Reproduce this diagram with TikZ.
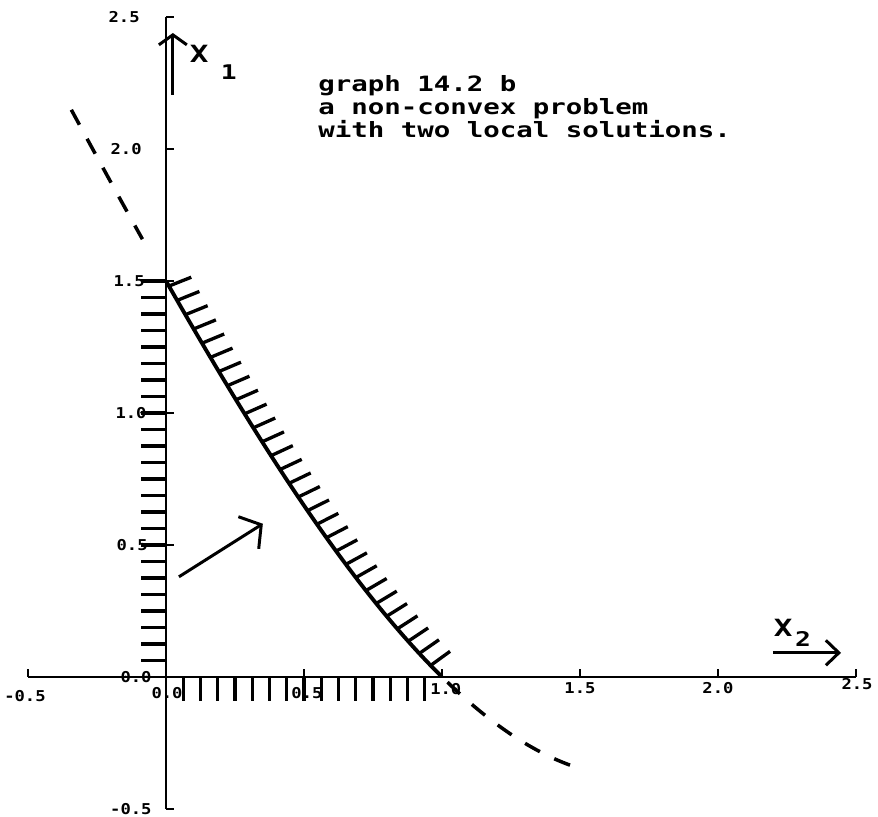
\documentclass[tikz,border=0pt]{standalone}
\usepackage{fontspec}
\newfontfamily\plotfont[FakeStretch=1.3]{DejaVu Sans Mono Bold}
\newfontfamily\tickfont[FakeStretch=1.15]{DejaVu Sans Mono Bold}
\usetikzlibrary{arrows.meta}
\usetikzlibrary{decorations.markings}
\tikzset{axis/.style = {line width=1.1pt}}
\tikzset{bound/.style = {line width=2.2pt}}
\tikzset{hatch/.style = {line width=1.9pt}}
\tikzset{ext/.style = {line width=2pt, dash pattern=on 0.34cm off 0.32cm}}
\tikzset{hatched/.style = {decoration={markings,
                                       mark=between positions 0.12cm and 1 step 0.33cm
                                       with {\draw[hatch] (0,0) -- (82:0.48cm);}},
                           postaction={decorate}}}
\tikzset{ticklab/.style = {inner sep=0, font=\tickfont\fontsize{8.5}{9}\selectfont}}
\tikzset{titletext/.style = {inner sep=0, anchor=base west, font=\plotfont\fontsize{12}{13}\selectfont}}
\tikzset{axlab/.style = {inner sep=0, font=\plotfont\fontsize{13.5}{14}\selectfont}}
\tikzset{sublab/.style = {inner sep=0, font=\plotfont\fontsize{11.5}{12}\selectfont}}
\tikzset{dirarrow/.style = {line width=1.7pt}}

\begin{document}
\begin{tikzpicture}[x=5.52cm, y=5.28cm,
    declare function={bnd(\t)=1.5-1.836*\t+0.202*\t*\t+0.134*\t*\t*\t;}]
  \useasboundingbox (-0.6014,-0.530) rectangle (2.580,2.564);
  % axes
  \coordinate (xmin) at (-0.5,0);
  \coordinate (xmax) at (2.5,0);
  \coordinate (ymin) at (0,-0.5);
  \coordinate (ymax) at (0,2.5);
  \draw[axis] (xmin) -- (xmax);
  \draw[axis] (ymin) -- (ymax);
  \foreach \v in {-0.5,0.5,1.0,1.5,2.0,2.5} {
    \draw[axis] (\v,0) -- ++(0,0.03);
    \draw[axis] (0,\v) -- ++(0.029,0);
  }
  % tick labels
  \foreach \v/\dx in {2.5/-0.094, 2.0/-0.087, 1.5/-0.076, 1.0/-0.069, 0.5/-0.065, 0.0/-0.051, -0.5/-0.051}
    \node[ticklab, anchor=east] (ylab\v) at (\dx,\v) {\v};
  \foreach \v/\px/\dy in {-0.5/-0.511/-0.049, 0.0/0.004/-0.038, 0.5/0.511/-0.038, 1.0/1.014/-0.023,
                          1.5/1.5/-0.019, 2.0/2.0/-0.019, 2.5/2.504/-0.004}
    \node[ticklab, anchor=north] (xlab\v) at (\px,\dy) {\v};
  % hatching along the axes
  \foreach \k in {1,...,24}
    \draw[hatch] (0,\k/16) -- ++(-0.09,0);
  \foreach \k in {1,...,15}
    \draw[hatch] (\k/16,0) -- ++(0,-0.09);
  % constraint and its extension
  \draw[bound, hatched] plot[domain=0:1, samples=80] (\x,{bnd(\x)});
  \draw[ext] plot[domain=-0.343:-0.085, samples=20] (\x,{bnd(\x)});
  \draw[ext] plot[domain=1.02:1.485, samples=20] (\x,{bnd(\x)});
  % direction arrows
  \coordinate (xonetail) at (0.025,2.205);
  \coordinate (xonehead) at (0.025,2.439);
  \draw[dirarrow, -{Straight Barb[length=0.2cm, width=0.56cm]}] (xonetail) -- (xonehead);
  \coordinate (xtwotail) at (2.199,0.091);
  \coordinate (xtwohead) at (2.446,0.091);
  \draw[dirarrow, -{Straight Barb[length=0.26cm, width=0.5cm]}] (xtwotail) -- (xtwohead);
  \coordinate (objtail) at (0.047,0.379);
  \coordinate (objhead) at (0.351,0.580);
  \draw[dirarrow, -{Straight Barb[length=0.3cm, width=0.76cm]}] (objtail) -- (objhead);
  % labels
  \node[axlab] (xonelab) at (0.120,2.360) {X};
  \node[sublab] (xoneidx) at (0.228,2.290) {1};
  \node[axlab] (xtwolab) at (2.236,0.186) {X};
  \node[sublab] (xtwoidx) at (2.308,0.144) {2};
  \node[titletext] (title1) at (0.551,2.216) {graph 14.2 b};
  \node[titletext] (title2) at (0.551,2.129) {a non-convex problem};
  \node[titletext] (title3) at (0.551,2.045) {with two local solutions.};
\end{tikzpicture}
\end{document}
